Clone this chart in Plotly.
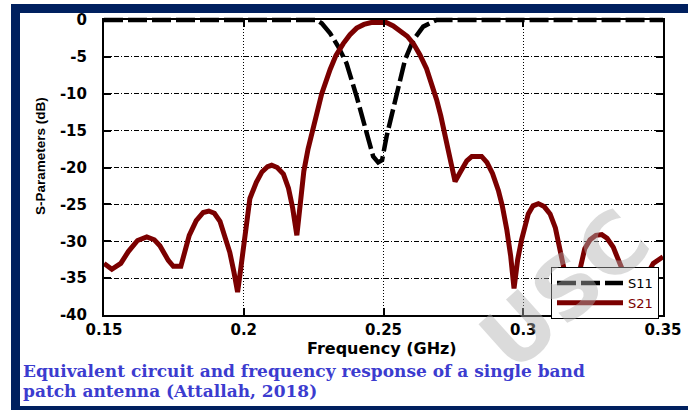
import plotly.graph_objects as go

# ---------------- data ----------------
s21_freq = [0.1500, 0.1528, 0.1560, 0.1587, 0.1620, 0.1653, 0.1680, 0.1700, 0.1730, 0.1748,
            0.1775, 0.1790, 0.1805, 0.1830, 0.1855, 0.1875, 0.1895, 0.1915, 0.1935, 0.1950,
            0.1965, 0.1978, 0.1990, 0.2000, 0.2022, 0.2045, 0.2065, 0.2085, 0.2100, 0.2120,
            0.2142, 0.2160, 0.2175, 0.2190, 0.2200, 0.2215, 0.2230, 0.2250, 0.2279, 0.2309,
            0.2330, 0.2356, 0.2380, 0.2404, 0.2430, 0.2460, 0.2485, 0.2510, 0.2535, 0.2559,
            0.2585, 0.2607, 0.2630, 0.2654, 0.2672, 0.2690, 0.2705, 0.2720, 0.2735, 0.2756,
            0.2775, 0.2798, 0.2816, 0.2851, 0.2870, 0.2890, 0.2911, 0.2925, 0.2941, 0.2955,
            0.2967, 0.2980, 0.2994, 0.3018, 0.3035, 0.3054, 0.3075, 0.3096, 0.3115, 0.3131,
            0.3150, 0.3165, 0.3177, 0.3190, 0.3205, 0.3220, 0.3239, 0.3260, 0.3281, 0.3300,
            0.3322, 0.3340, 0.3352, 0.3370, 0.3385, 0.3400, 0.3430, 0.3465, 0.3489, 0.3500]
s21_db = [-33.0, -33.8, -33.0, -31.4, -29.9, -29.4, -29.8, -30.6, -32.6, -33.4,
          -33.4, -31.5, -29.2, -27.2, -26.1, -25.9, -26.2, -27.3, -29.5, -31.5,
          -34.2, -36.9, -33.5, -30.2, -24.2, -22.0, -20.6, -19.9, -19.7, -20.0,
          -20.9, -22.8, -25.5, -29.2, -26.0, -20.5, -17.5, -14.3, -10.0, -6.7,
          -4.8, -3.2, -2.0, -1.1, -0.6, -0.3, -0.25, -0.35, -0.8, -1.4,
          -2.2, -3.2, -4.7, -6.6, -8.5, -10.8, -13.0, -15.6, -18.3, -21.9,
          -20.6, -19.1, -18.5, -18.5, -19.3, -20.8, -23.1, -25.2, -28.4, -32.0,
          -36.4, -32.5, -29.8, -26.3, -25.2, -24.9, -25.3, -26.3, -28.2, -30.8,
          -34.5, -38.5, -40.6, -38.0, -33.5, -31.0, -29.8, -29.2, -29.1, -29.6,
          -30.8, -32.5, -33.6, -37.0, -40.5, -39.0, -35.5, -33.0, -32.3, -32.1]

s11_freq = [0.1500, 0.2260, 0.2279, 0.2309, 0.2338, 0.2368, 0.2404, 0.2440, 0.2463, 0.2481,
            0.2495, 0.2511, 0.2541, 0.2577, 0.2607, 0.2642, 0.2690, 0.3500]
s11_db = [0.0, 0.0, -0.45, -1.8, -3.6, -5.9, -10.4, -15.4, -18.5, -19.3,
          -19.0, -15.8, -10.8, -5.4, -2.7, -0.9, 0.0, 0.0]

x_tick_vals = [0.15, 0.20, 0.25, 0.30, 0.35]
x_tick_text = ["0.15", "0.2", "0.25", "0.3", "0.35"]
y_tick_vals = [-40, -35, -30, -25, -20, -15, -10, -5, 0]
y_tick_text = ["-40", "-35", "-30", "-25", "-20", "-15", "-10", "-5", "0"]

x_title = "Frequency (GHz)"
y_title = "S-Parameters (dB)"
caption_lines = ["Equivalent circuit and frequency response of a single band",
                 "patch antenna (Attallah, 2018)"]
watermark = "USC"

# ---------------- layout geometry ----------------
W, H = 688, 410
ML, MR, MT, MB = 104, 25, 14, 95
PW = W - ML - MR
PH = H - MT - MB
BOX_TOP = 20          # pixel row of the 0 dB line
BOX_BOT = H - MB      # pixel row of the -40 dB line
main_dom_top = (BOX_BOT - BOX_TOP) / PH
db_per_px = 40.0 / (BOX_BOT - BOX_TOP)
ext_top = (BOX_TOP - MT) * db_per_px


def px(X):
    return (X - ML) / PW


def py(Y):
    return (BOX_BOT - Y) / PH


NAVY = "#00205f"
MAROON = "#7b0000"
CAPTION = "#3c3ccf"

fig = go.Figure()

# S11 on an extended (hidden) subplot so the thick 0 dB line is not clipped
fig.add_trace(go.Scatter(
    x=s11_freq, y=s11_db, mode="lines", name="S11",
    line=dict(color="black", width=4.5, dash="19px,5px"),
    xaxis="x", yaxis="y", showlegend=True))

# S21 on the main visible axes
fig.add_trace(go.Scatter(
    x=s21_freq, y=s21_db, mode="lines",
    name="<span style='color:%s'>S21</span>" % MAROON,
    line=dict(color=MAROON, width=5),
    xaxis="x2", yaxis="y2"))

tickfont = dict(family="DejaVu Sans", size=15, color="black", weight="bold")

fig.update_layout(
    width=W, height=H,
    margin=dict(l=ML, r=MR, t=MT, b=MB, pad=0, autoexpand=False),
    paper_bgcolor="white", plot_bgcolor="rgba(0,0,0,0)",
    xaxis=dict(domain=[0, 1], range=[0.15, 0.35], visible=False, anchor="y",
               automargin=False),
    yaxis=dict(domain=[0, 1], range=[-40, ext_top], visible=False, anchor="x",
               automargin=False),
    xaxis2=dict(domain=[0, 1], range=[0.15, 0.35], anchor="y2", automargin=False,
                tickvals=x_tick_vals, ticktext=x_tick_text,
                ticks="inside", ticklen=7, tickwidth=1.5, tickcolor="black",
                showline=True, linecolor="black", linewidth=2, mirror="ticks",
                showgrid=True, gridcolor="black", gridwidth=1, griddash="1px,2px",
                zeroline=False, tickfont=tickfont, ticklabelstandoff=0),
    yaxis2=dict(domain=[0, main_dom_top], range=[-40, 0], anchor="x2", automargin=False,
                tickvals=y_tick_vals, ticktext=y_tick_text,
                ticks="inside", ticklen=7, tickwidth=1.5, tickcolor="black",
                showline=True, linecolor="black", linewidth=2, mirror="ticks",
                showgrid=True, gridcolor="black", gridwidth=1, griddash="5px,2px,1px,2px",
                zeroline=False, tickfont=tickfont, ticklabelstandoff=12),
    legend=dict(x=px(659), y=py(319), xanchor="right", yanchor="bottom",
                bgcolor="white", bordercolor="black", borderwidth=1,
                font=dict(family="DejaVu Sans", size=13, color="black"),
                tracegroupgap=0, itemwidth=66),
    showlegend=True,
)

annotations = [
    dict(text=watermark, x=px(565), y=py(290), xref="paper", yref="paper",
         showarrow=False, xanchor="center", yanchor="middle", textangle=-42,
         font=dict(family="DejaVu Sans", size=84, color="rgba(175,175,175,0.45)",
                   weight="bold")),
    dict(text=x_title, x=px(382), y=py(348), xref="paper", yref="paper",
         showarrow=False, xanchor="center", yanchor="middle",
         font=dict(family="DejaVu Sans", size=16, color="black", weight="bold")),
    dict(text=y_title, x=px(40), y=py(156), xref="paper", yref="paper",
         showarrow=False, xanchor="center", yanchor="middle", textangle=-90,
         font=dict(family="Liberation Sans", size=13.5, color="black", weight="bold")),
    dict(text=caption_lines[0], x=px(21), y=py(371), xref="paper", yref="paper",
         showarrow=False, xanchor="left", yanchor="middle",
         font=dict(family="DejaVu Serif", size=17, color=CAPTION, weight="bold")),
    dict(text=caption_lines[1], x=px(21), y=py(391), xref="paper", yref="paper",
         showarrow=False, xanchor="left", yanchor="middle",
         font=dict(family="DejaVu Serif", size=17, color=CAPTION, weight="bold")),
]
fig.update_layout(annotations=annotations)

# navy frame
shapes = [
    dict(type="rect", xref="paper", yref="paper", x0=px(11), x1=px(700), y0=py(13), y1=py(4),
         fillcolor=NAVY, line=dict(width=0)),
    dict(type="rect", xref="paper", yref="paper", x0=px(11), x1=px(20), y0=py(420), y1=py(4),
         fillcolor=NAVY, line=dict(width=0)),
    dict(type="rect", xref="paper", yref="paper", x0=px(11), x1=px(700), y0=py(420), y1=py(406),
         fillcolor=NAVY, line=dict(width=0)),
]
fig.update_layout(shapes=shapes)

fig.write_html("out.html")
